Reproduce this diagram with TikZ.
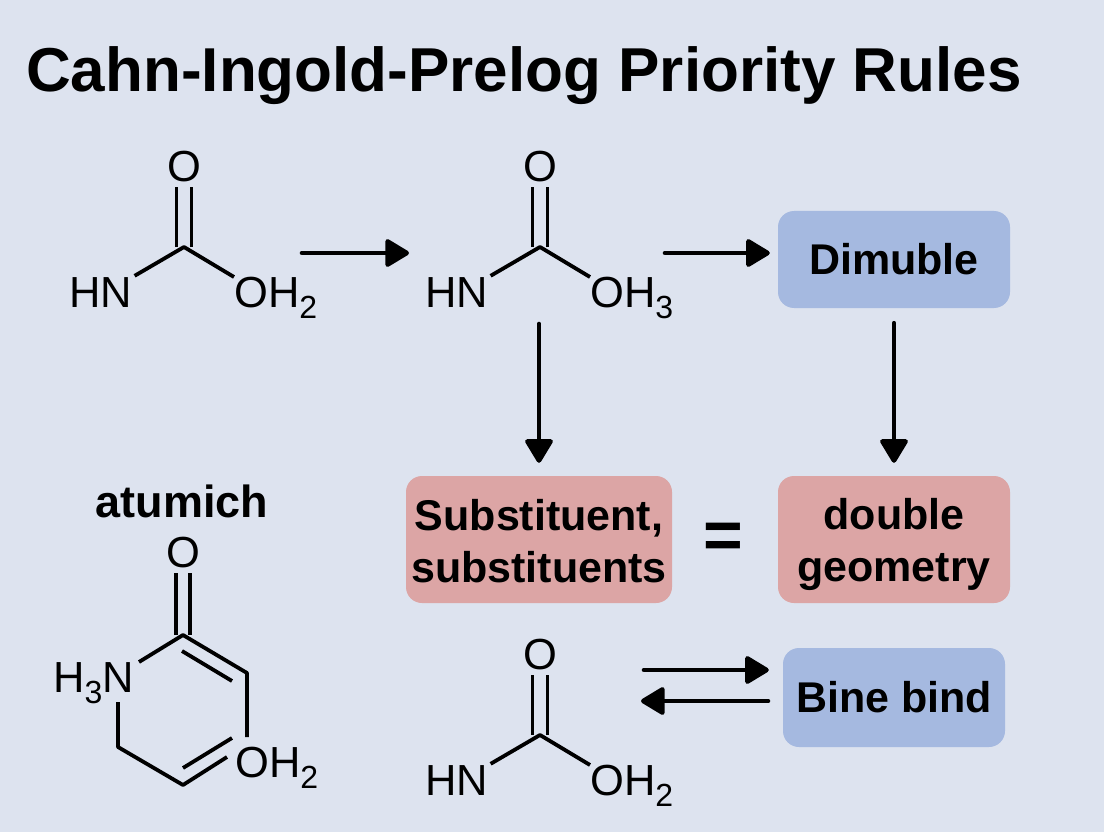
\documentclass[tikz,border=0pt]{standalone}
\usepackage{fontspec}
\setmainfont{Liberation Sans}
\usetikzlibrary{arrows.meta}
\definecolor{paper}{HTML}{DDE3EF}
\definecolor{bluebox}{HTML}{A5B9E0}
\definecolor{redbox}{HTML}{DCA5A5}
\newcommand{\subdigit}[1]{\raisebox{-11pt}{\fontsize{32}{32}\selectfont #1}}
\newcommand{\liftrule}[1]{\rule{0pt}{#1}}
\tikzset{
  atom/.style={inner sep=0pt,font=\fontsize{43.5}{43.5}\selectfont},
  bond/.style={line width=3.8pt},
  flow/.style={line width=4.6pt,line cap=round,-{Triangle[round,length=26pt,width=30pt]}},
  card/.style={rounded corners=16pt,align=center,inner sep=0pt,font=\fontsize{43}{52}\selectfont\bfseries}
}
\begin{document}
\begin{tikzpicture}[x=1pt,y=-1pt]
\fill[paper] (0,0) rectangle (1104,832);
\useasboundingbox (0,0) rectangle (1104,832);
\node[anchor=west,inner sep=0pt,font=\fontsize{62}{62}\selectfont\bfseries] (title) at (26,76) {Cahn-Ingold-Prelog Priority Rules};
%boxes
\node[card,fill=bluebox,minimum width=232pt,minimum height=97pt] (dimuble) at (894,259.5) {Dimuble};
\node[card,fill=redbox,minimum width=266pt,minimum height=127pt] (subst) at (539,539.5) {\liftrule{35pt}Substituent,\\substituents};
\node[card,fill=redbox,minimum width=232pt,minimum height=127pt] (geom) at (894,539.5) {\liftrule{41pt}double\\geometry};
\node[card,fill=bluebox,minimum width=222pt,minimum height=99pt] (bine) at (894,697.5) {Bine bind};
\node[inner sep=0pt,font=\fontsize{68}{68}\selectfont\bfseries] (equal) at (723,541) {=};
\node[inner sep=0pt,font=\fontsize{45}{45}\selectfont\bfseries] (atumich) at (182,501) {atumich};
%open molecules
\foreach \nm/\xc/\yc/\dg in {one/184/247/2,two/540/247/3,three/540/735/2} {
  \coordinate (\nm C) at (\xc,\yc);
  \node[atom] (\nm O) at (\xc,\yc-80) {O};
  \node[atom,inner sep=2pt] (\nm N) at (\xc-83,\yc+46) {HN};
  \node[atom,anchor=north west] (\nm H) at (\xc+50,\yc+30) {OH\subdigit{\dg}};
  \draw[bond,shorten >=4pt] ([xshift=-7.5pt]\nm C) -- ([xshift=-7.5pt]\nm O.south);
  \draw[bond,shorten >=4pt] ([xshift=7.5pt]\nm C) -- ([xshift=7.5pt]\nm O.south);
  \draw[bond,line join=round] (\nm N.north east) -- (\nm C) -- (\nm H.north west);
}
%ring molecule
\node[atom] (ringO) at (183,553) {O};
\node[atom,anchor=north west] (ringN) at (53,662) {H\subdigit{3}N};
\node[atom,anchor=north west] (ringH) at (235,747) {OH\subdigit{2}};
\coordinate (ringC) at (183,635);
\coordinate (ringA) at (247,673);
\coordinate (ringB) at (247,737);
\coordinate (ringD) at (118,702);
\coordinate (ringE) at (118,747);
\coordinate (ringF) at (183,785);
\coordinate (ringG) at (227,757);
\coordinate (ringNC) at (139,662);
\draw[bond,shorten >=4pt] ([xshift=-7pt]ringC) -- ([xshift=-7pt]ringO.south);
\draw[bond,shorten >=4pt] ([xshift=7pt]ringC) -- ([xshift=7pt]ringO.south);
\draw[bond,line join=round] (ringNC) -- (ringC) -- (ringA) -- (ringB);
\draw[bond,line join=round] (ringD) -- (ringE) -- (ringF) -- (ringG);
\coordinate (innerA) at (182,651);
\coordinate (innerB) at (232,681);
\coordinate (innerC) at (183,768);
\coordinate (innerD) at (232,738);
\draw[bond] (innerA) -- (innerB);
\draw[bond] (innerC) -- (innerD);
%arrows
\coordinate (startA) at (302,253);
\coordinate (endA) at (409,253);
\coordinate (startB) at (665,253);
\coordinate (startC) at (539,324);
\coordinate (startD) at (644,670);
\coordinate (startE) at (768,701);
\coordinate (endE) at (641,701);
\draw[flow] (startA) -- (endA);
\draw[flow,shorten >=8pt] (startB) -- (startB -| dimuble.west);
\draw[flow,shorten >=13pt] (startC) -- (subst.north);
\draw[flow,shorten <=15pt,shorten >=13pt] (dimuble.south) -- (geom.north);
\draw[flow,shorten >=14pt] (startD) -- (startD -| bine.west);
\draw[flow] (startE) -- (endE);
\end{tikzpicture}
\end{document}
